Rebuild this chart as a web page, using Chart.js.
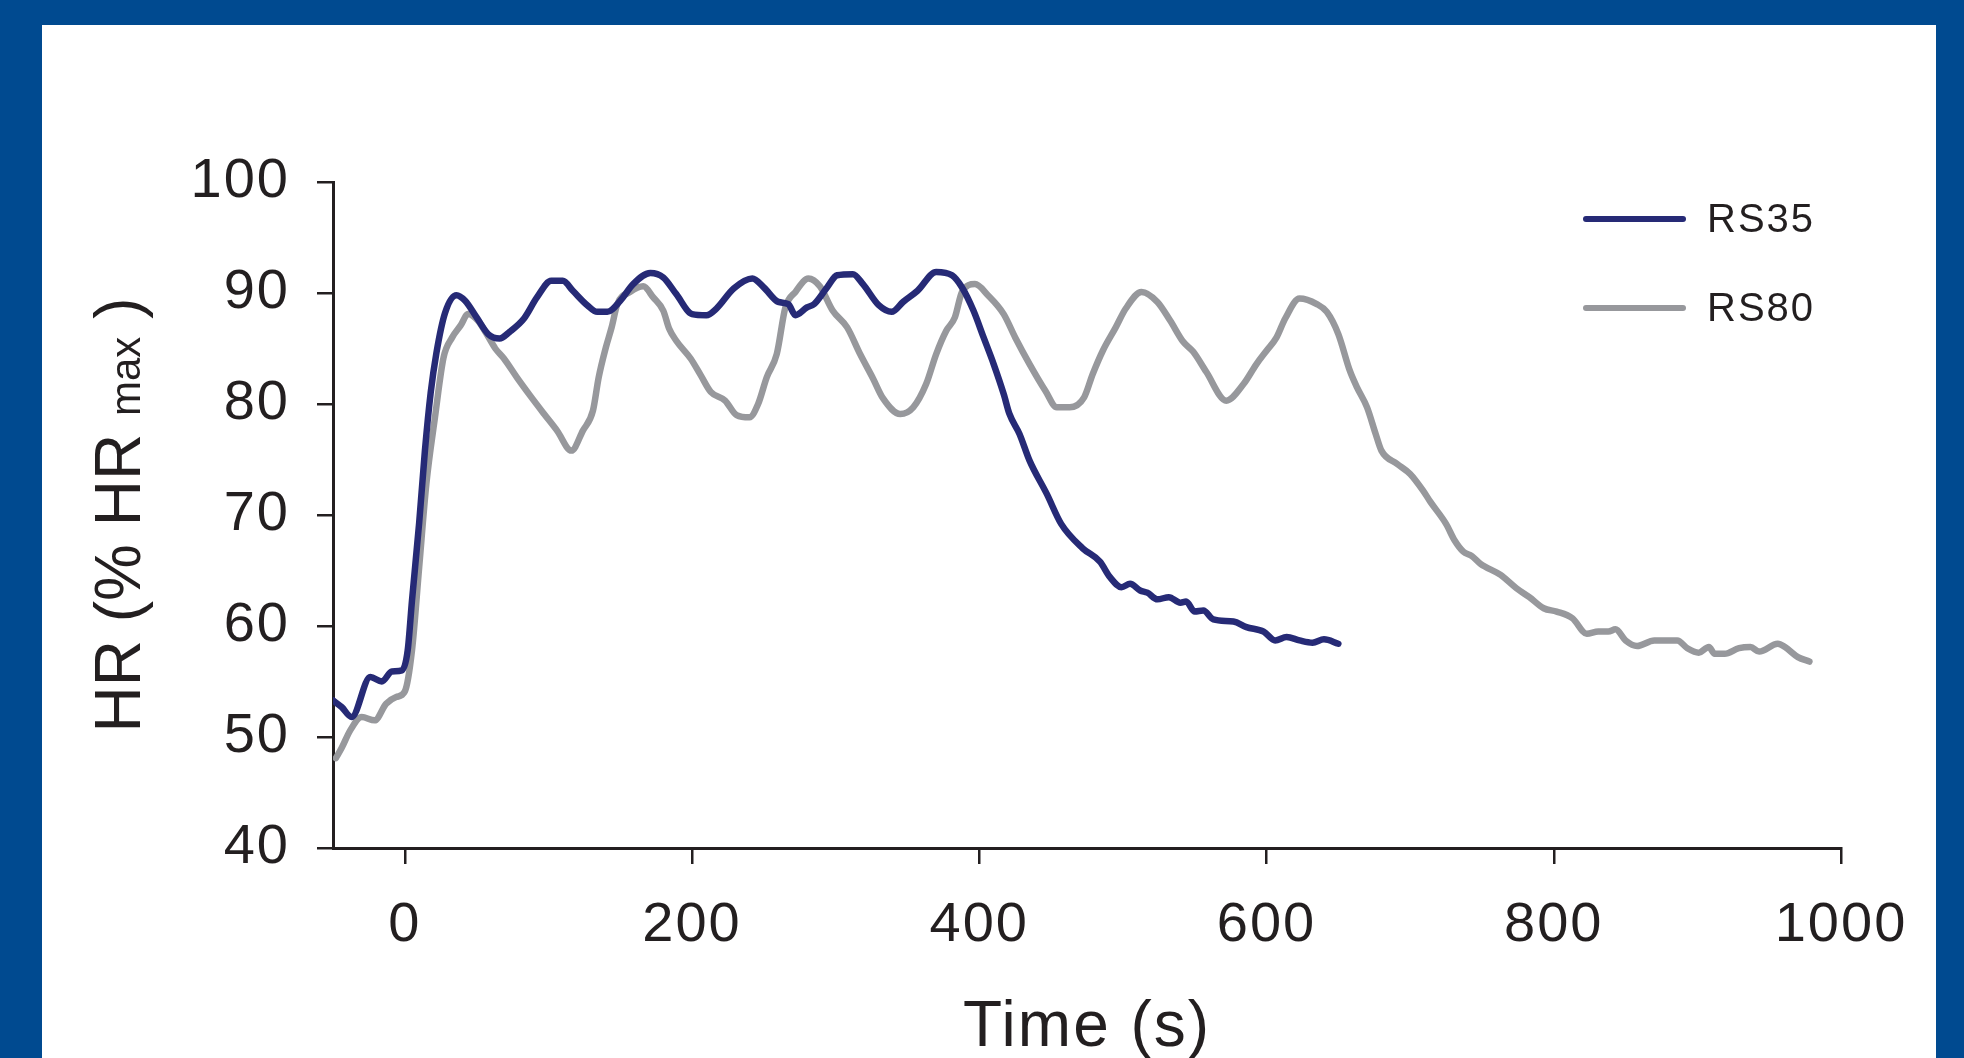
<!DOCTYPE html>
<html>
<head>
<meta charset="utf-8">
<script src="https://cdn.jsdelivr.net/npm/chart.js@4.4.1/dist/chart.umd.min.js"></script>
<style>
  html, body { margin: 0; padding: 0; background: #004A90; }
  #wrap { position: relative; width: 1964px; height: 1058px; }
</style>
</head>
<body>
<div id="wrap"><canvas id="c"></canvas></div>
<script>
// ---- data ----
const seriesLabels = ["RS35", "RS80"];
const xTickValues = [0, 200, 400, 600, 800, 1000];
const yTickValues = [40, 50, 60, 70, 80, 90, 100];

const rs35Time = [-50, -44, -37, -24, -16, -9, -2, 2, 5, 10, 14, 18, 22, 28, 36, 42, 50, 58, 66, 73, 83, 92, 102, 110, 117, 127, 134, 141, 150, 159, 171, 180, 189, 200, 210, 217, 229, 242, 250, 260, 267, 272, 280, 285, 294, 301, 312, 319, 330, 339, 347, 357, 370, 381, 388, 396, 403, 410, 417, 421, 428, 435, 447, 457, 472, 484, 491, 499, 505, 512, 517, 524, 532, 540, 544, 550, 556, 563, 577, 586, 598, 606, 614, 623, 632, 640, 650];
const rs35HR = [53.3, 52.7, 51.8, 55.4, 55.0, 55.9, 56.0, 57.8, 62.3, 69.3, 75.8, 81.0, 84.6, 88.2, 89.8, 89.3, 87.8, 86.3, 85.9, 86.5, 87.7, 89.6, 91.1, 91.1, 90.2, 88.9, 88.3, 88.3, 89.3, 90.8, 91.8, 91.4, 89.9, 88.1, 88.0, 88.6, 90.4, 91.3, 90.5, 89.2, 89.0, 88.0, 88.7, 89.0, 90.5, 91.6, 91.7, 90.8, 88.9, 88.3, 89.2, 90.2, 91.9, 91.6, 90.5, 88.4, 86.0, 83.6, 80.9, 79.1, 77.3, 74.9, 71.9, 69.2, 67.0, 65.8, 64.4, 63.5, 63.8, 63.2, 63.0, 62.4, 62.6, 62.1, 62.2, 61.3, 61.4, 60.6, 60.4, 59.9, 59.5, 58.7, 59.0, 58.7, 58.5, 58.8, 58.4];

const rs80Time = [-48, -44, -38, -30, -21, -13, -6, 0, 5, 10, 15, 21, 27, 33, 39, 44, 51, 57, 63, 69, 78, 87, 97, 106, 116, 124, 131, 135, 140, 144, 148, 157, 166, 173, 180, 184, 189, 199, 206, 213, 223, 231, 240, 246, 252, 259, 265, 272, 281, 289, 298, 308, 317, 326, 333, 345, 354, 363, 370, 377, 383, 388, 397, 406, 417, 425, 435, 446, 454, 463, 473, 479, 486, 495, 502, 513, 524, 533, 542, 549, 558, 572, 584, 593, 600, 607, 613, 623, 635, 642, 650, 658, 663, 670, 676, 680, 691, 700, 709, 714, 725, 731, 737, 743, 749, 763, 774, 783, 793, 802, 813, 823, 831, 838, 843, 850, 858, 870, 886, 893, 901, 908, 912, 919, 929, 937, 943, 956, 961, 970, 978];
const rs80HR = [48.1, 49.0, 50.6, 51.8, 51.5, 53.0, 53.6, 54.1, 57.8, 65.3, 72.8, 78.8, 84.2, 86.0, 87.1, 88.1, 87.5, 86.3, 85.0, 84.1, 82.4, 80.8, 79.1, 77.6, 75.8, 77.6, 79.4, 82.4, 85.1, 86.9, 89.0, 90.1, 90.6, 89.6, 88.4, 86.8, 85.7, 84.1, 82.6, 81.1, 80.3, 79.0, 78.8, 80.0, 82.4, 84.5, 88.7, 90.1, 91.3, 90.6, 88.4, 86.9, 84.5, 82.3, 80.5, 79.1, 79.7, 81.8, 84.5, 86.6, 87.8, 90.1, 90.8, 89.8, 88.1, 86.0, 83.6, 81.2, 79.7, 79.7, 80.6, 82.7, 84.8, 86.9, 88.6, 90.1, 89.2, 87.5, 85.6, 84.7, 82.9, 80.3, 81.8, 83.6, 84.8, 86.0, 87.7, 89.5, 89.0, 88.3, 86.3, 83.0, 81.5, 79.7, 77.3, 75.8, 74.6, 73.7, 72.2, 71.2, 69.2, 67.7, 66.7, 66.3, 65.6, 64.6, 63.4, 62.6, 61.6, 61.3, 60.7, 59.3, 59.5, 59.5, 59.7, 58.7, 58.2, 58.7, 58.7, 58.0, 57.6, 58.1, 57.5, 57.5, 58.0, 58.1, 57.7, 58.4, 58.1, 57.2, 56.8];

const seriesColors = ["#262A76", "#97989C"];
const textColor = "#231F20";
const FONT = "'Liberation Sans', Arial, sans-serif";

function toPoints(xs, ys) { return xs.map((x, i) => ({ x: x, y: ys[i] })); }

const decor = {
  id: 'decor',
  beforeDraw(chart) {
    const ctx = chart.ctx;
    ctx.save();
    ctx.fillStyle = '#004A90';
    ctx.fillRect(0, 0, chart.width, chart.height);
    ctx.fillStyle = '#ffffff';
    ctx.fillRect(42, 25, 1894, chart.height - 25);
    ctx.restore();
    ctx.letterSpacing = '2px';
  },
  afterDraw(chart) {
    const ctx = chart.ctx;
    const area = chart.chartArea;
    // y-axis title with smaller "max"
    ctx.save();
    ctx.letterSpacing = '0px';
    const cy = (area.top + area.bottom) / 2;
    ctx.translate(140, cy);
    ctx.rotate(-Math.PI / 2);
    ctx.fillStyle = textColor;
    ctx.textBaseline = 'alphabetic';
    ctx.textAlign = 'left';
    const bigFont = "64px " + FONT, smallFont = "42px " + FONT;
    const p1 = "HR (% HR ", p2 = "max", p3 = " )";
    ctx.font = bigFont; const w1 = ctx.measureText(p1).width, w3 = ctx.measureText(p3).width;
    ctx.font = smallFont; const w2 = ctx.measureText(p2).width;
    let x = -(w1 + w2 + w3) / 2;
    ctx.font = bigFont; ctx.fillText(p1, x, 0); x += w1;
    ctx.font = smallFont; ctx.fillText(p2, x, 0); x += w2;
    ctx.font = bigFont; ctx.fillText(p3, x, 0);
    ctx.restore();
    // legend
    ctx.save();
    ctx.letterSpacing = '2px';
    const legendY = [219, 308];
    chart.data.datasets.forEach((ds, i) => {
      ctx.strokeStyle = ds.borderColor;
      ctx.lineWidth = 6;
      ctx.lineCap = 'round';
      ctx.beginPath();
      ctx.moveTo(1586, legendY[i]);
      ctx.lineTo(1683, legendY[i]);
      ctx.stroke();
      ctx.fillStyle = textColor;
      ctx.font = "40px " + FONT;
      ctx.textBaseline = 'middle';
      ctx.textAlign = 'left';
      ctx.fillText(ds.label, 1707, legendY[i] + 2);
    });
    ctx.restore();
  }
};

new Chart(document.getElementById('c'), {
  type: 'line',
  data: {
    datasets: [
      { label: seriesLabels[0], data: toPoints(rs35Time, rs35HR), borderColor: seriesColors[0] },
      { label: seriesLabels[1], data: toPoints(rs80Time, rs80HR), borderColor: seriesColors[1] }
    ]
  },
  options: {
    responsive: true,
    maintainAspectRatio: false,
    animation: false,
    devicePixelRatio: 1,
    layout: { padding: { left: 160, right: 123, top: 182, bottom: 0 } },
    elements: {
      line: { borderWidth: 6.5, tension: 0.4, cubicInterpolationMode: 'monotone', borderCapStyle: 'round', borderJoinStyle: 'round', fill: false },
      point: { radius: 0, hoverRadius: 0 }
    },
    plugins: { legend: { display: false }, tooltip: { enabled: false }, title: { display: false } },
    scales: {
      x: {
        type: 'linear', min: -50, max: 1000,
        afterBuildTicks: s => { s.ticks = xTickValues.map(v => ({ value: v })); },
        afterFit: s => { s.height = 1058 - 848; },
        border: { display: true, color: textColor, width: 3 },
        grid: { drawOnChartArea: false, drawTicks: true, tickLength: 16, color: textColor, lineWidth: 2.5 },
        ticks: { color: textColor, font: { family: FONT, size: 56 }, padding: 28, maxRotation: 0, autoSkip: false, callback: v => String(v) },
        title: { display: true, text: 'Time (s)', color: textColor, font: { family: FONT, size: 64, lineHeight: 0.92 }, padding: { top: 0, bottom: 0 } }
      },
      y: {
        type: 'linear', min: 40, max: 100,
        afterBuildTicks: s => { s.ticks = yTickValues.map(v => ({ value: v })); },
        afterFit: s => { s.width = 333 - 160; },
        border: { display: true, color: textColor, width: 3 },
        grid: { drawOnChartArea: false, drawTicks: true, tickLength: 16, color: textColor, lineWidth: 2.5 },
        ticks: { color: textColor, font: { family: FONT, size: 56 }, padding: 27, autoSkip: false, callback: v => String(v) }
      }
    }
  },
  plugins: [decor]
});
</script>
</body>
</html>
